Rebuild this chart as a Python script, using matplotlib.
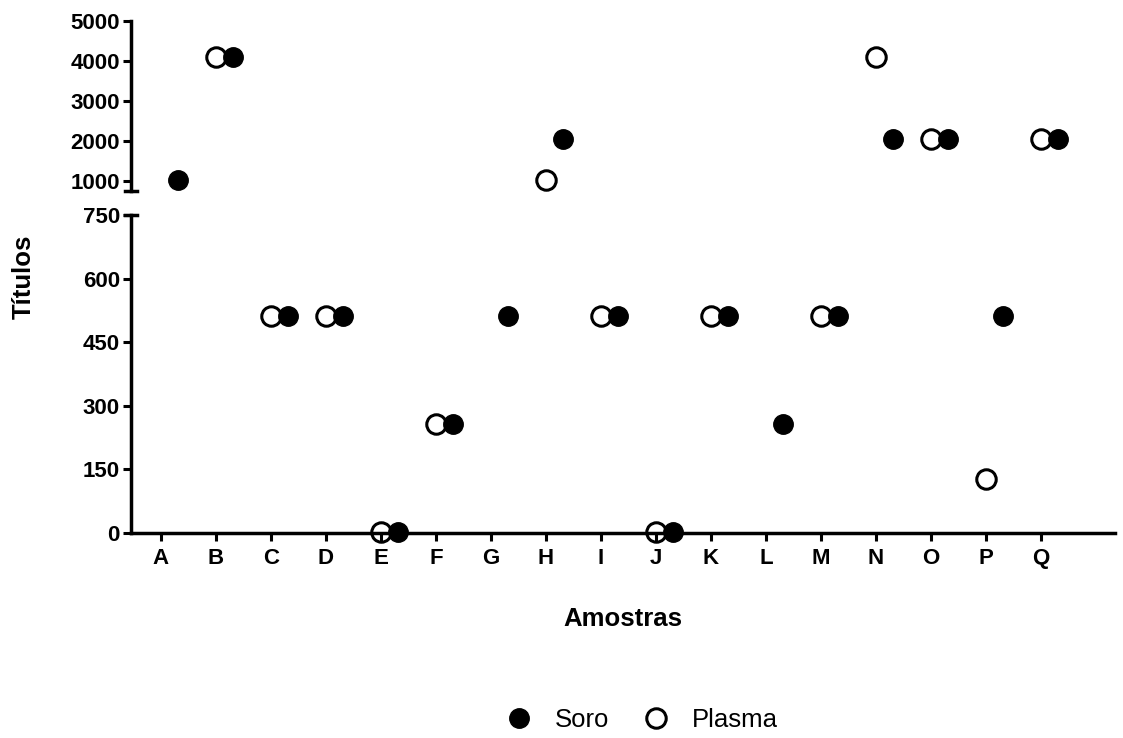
import numpy as np
import matplotlib.pyplot as plt
from matplotlib.lines import Line2D

plt.rcParams['font.family'] = ['Liberation Sans', 'DejaVu Sans']

# dados
amostras = list("ABCDEFGHIJKLMNOPQ")
soro = [1024, 4096, 512, 512, 2, 256, 512, 2048, 512, 2, 512, 256, 512, 2048, 2048, 512, 2048]
plasma = [np.nan, 4096, 512, 512, 2, 256, np.nan, 1024, 512, 2, 512, np.nan, 512, 4096, 2048, 128, 2048]

x = np.arange(len(amostras))
desloc = 0.31
corte = 750

soro = np.array(soro, dtype=float)
plasma = np.array(plasma, dtype=float)

fig = plt.figure(figsize=(11.23, 7.38), dpi=100)
ax_b = fig.add_axes([131/1123, (738-533)/738, 984/1123, 318/738])
ax_t = fig.add_axes([131/1123, (738-191)/738, 984/1123, 170/738], sharex=ax_b)

lw = 2.5
ms = 14
for ax, baixo in ((ax_b, True), (ax_t, False)):
    p = np.where((plasma <= corte) == baixo, plasma, np.nan)
    s = np.where((soro <= corte) == baixo, soro, np.nan)
    ax.plot(x, p, 'o', ms=ms, mfc='none', mec='black', mew=2.2, clip_on=False, zorder=5)
    ax.plot(x + desloc, s, 'o', ms=ms, color='black', clip_on=False, zorder=5)
    ax.spines['top'].set_visible(False)
    ax.spines['right'].set_visible(False)
    ax.spines['left'].set_linewidth(lw)
    ax.spines['bottom'].set_linewidth(lw)
    ax.tick_params(direction='out', length=6, width=2.2, labelsize=16)
    ax.tick_params(axis='y', pad=2)
    ax.tick_params(axis='x', pad=5)

ax_b.set_ylim(0, 750)
ax_b.set_yticks([0, 150, 300, 450, 600, 750])
ax_t.set_ylim(750, 5000)
ax_t.set_yticks([1000, 2000, 3000, 4000, 5000])
ax_t.spines['bottom'].set_visible(False)
ax_t.tick_params(axis='x', bottom=False, labelbottom=False)

ax_b.set_xlim(-0.545, 17.35)
ax_b.set_xticks(x)
ax_b.set_xticklabels(amostras)
for lab in ax_b.get_yticklabels() + ax_t.get_yticklabels() + ax_b.get_xticklabels():
    lab.set_fontweight('bold')

# marcas de quebra do eixo
brk = 6 / 984 * (17.35 + 0.545)
ax_t.plot([-0.545 - brk, -0.545 + brk], [750, 750], color='black', lw=lw, clip_on=False)
ax_b.plot([-0.545 - brk, -0.545 + brk], [750, 750], color='black', lw=lw, clip_on=False)

fig.text((131 + 984 / 2) / 1123, (738 - 619) / 738, 'Amostras', fontsize=18.5, fontweight='bold',
         ha='center', va='center')
fig.text(24/1123, (738-277)/738, 'Títulos', rotation=90, fontsize=18.5, fontweight='bold',
         ha='center', va='center')

handles = [Line2D([], [], ls='none', marker='o', ms=ms, color='black'),
           Line2D([], [], ls='none', marker='o', ms=ms, mfc='none', mec='black', mew=2.2)]
fig.legend(handles, ['Soro', 'Plasma'], loc='center', bbox_to_anchor=(0.566, 0.024), ncol=2,
           frameon=False, fontsize=18.5, handletextpad=0.4, columnspacing=0.8)

fig.savefig('out.png', dpi=100)
